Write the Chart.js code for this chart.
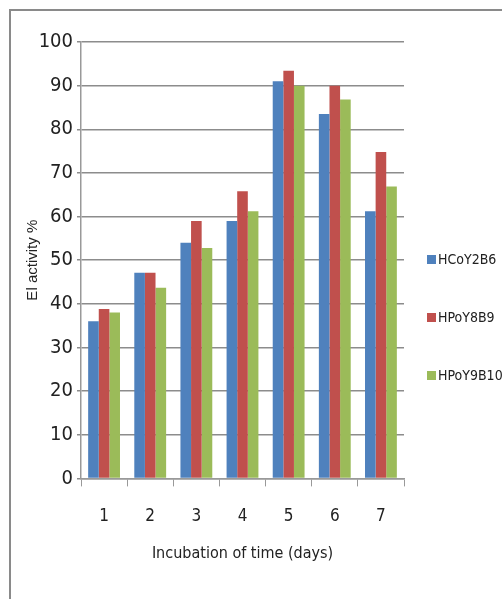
<!DOCTYPE html>
<html><head><meta charset="utf-8">
<script src="https://cdn.jsdelivr.net/npm/chart.js@4"></script>
<style>
html,body{margin:0;padding:0;background:#fff;width:502px;height:599px;overflow:hidden;}
#frame{position:absolute;left:9px;top:9px;width:520px;height:620px;border:2px solid #8a8a8a;}
#wrap{position:absolute;left:0;top:0;width:502px;height:599px;}
.leg{position:absolute;left:427px;font-family:'Liberation Sans Narrow','DejaVu Sans Condensed',sans-serif;font-size:14px;color:#222;line-height:18px;white-space:nowrap;}
.leg span{display:inline-block;width:9px;height:9px;margin-right:2px;vertical-align:0px;}
</style></head>
<body>
<div id="frame"></div>
<div id="wrap"><canvas id="c"></canvas></div>
<div id="legend"></div>
<script>
const categories = ['1','2','3','4','5','6','7'];
const seriesNames = ['HCoY2B6','HPoY8B9','HPoY9B10'];
const hcoy2b6 = [36, 47.1, 54, 59, 91, 83.5, 61.2];
const hpoy8b9 = [38.8, 47.1, 59, 65.8, 93.4, 90, 74.8];
const hpoy9b10 = [38, 43.7, 52.8, 61.2, 90, 86.8, 66.9];
const colors = ['#4f81bd','#c0504d','#9bbb59'];
const narrow = "'Liberation Sans Narrow','Arial Narrow','DejaVu Sans Condensed',sans-serif";

const legendTops = [250, 308, 366];
const lg = document.getElementById('legend');
seriesNames.forEach((n,i)=>{
  const d = document.createElement('div');
  d.className = 'leg';
  d.style.top = legendTops[i] + 'px';
  d.innerHTML = '<span style="background:'+colors[i]+'"></span>' + n;
  lg.appendChild(d);
});

new Chart(document.getElementById('c'), {
  type: 'bar',
  data: {
    labels: categories,
    datasets: [hcoy2b6, hpoy8b9, hpoy9b10].map((d,i)=>({
      label: seriesNames[i], data: d, backgroundColor: colors[i], borderWidth: 0,
      categoryPercentage: 0.69, barPercentage: 1.0
    }))
  },
  options: {
    responsive: true, maintainAspectRatio: false, animation: false,
    layout: { padding: { left: 20, right: 98, top: 42, bottom: 32 } },
    plugins: { tooltip: { enabled: false }, legend: { display: false } },
    scales: {
      x: {
        grid: { display: true, drawOnChartArea: false, drawTicks: true, tickLength: 8, color: '#999', offset: true },
        border: { color: '#999', width: 1.5 },
        ticks: { color: '#222', font: { family: narrow, size: 17 }, padding: 20 },
        title: { display: true, text: 'Incubation of time (days)', color: '#222',
          font: { family: narrow, size: 16 }, padding: { top: -3, bottom: 4 } }
      },
      y: {
        min: 0, max: 100,
        afterFit: s => { s.width = 61; },
        ticks: { stepSize: 10, color: '#222', font: { family: narrow, size: 20 }, padding: 4 },
        grid: { color: '#8c8c8c', lineWidth: 1.5, tickLength: 4 },
        border: { color: '#999', width: 1.5 },
        title: { display: true, text: 'El activity %', color: '#222',
          font: { family: "'Liberation Sans',Arial,sans-serif", size: 15 }, padding: { top: 4, bottom: 4 } }
      }
    }
  }
});
</script>
</body></html>
